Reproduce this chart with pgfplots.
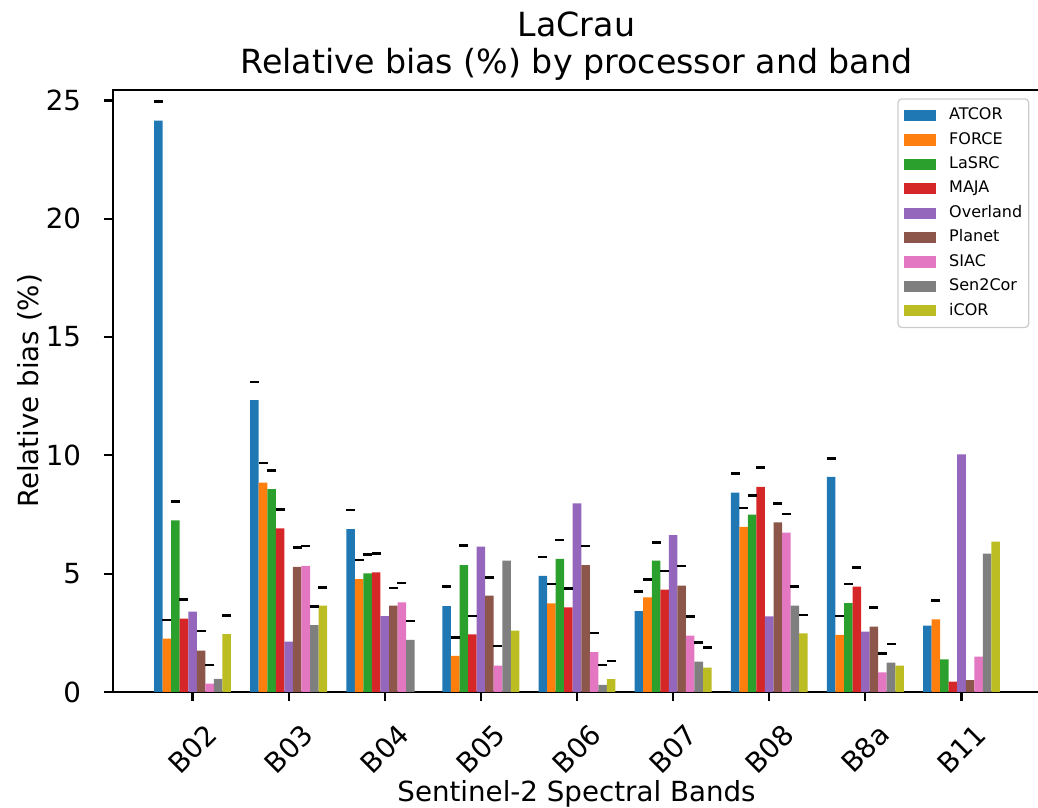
\documentclass[border=0pt]{standalone}
\usepackage{fontspec}
\setmainfont{DejaVu Sans}
\usepackage{pgfplots}
\usepackage{pgfplotstable}
\pgfplotsset{compat=1.18}
\definecolor{cA}{HTML}{1F77B4}
\definecolor{cB}{HTML}{FF7F0E}
\definecolor{cC}{HTML}{2CA02C}
\definecolor{cD}{HTML}{D62728}
\definecolor{cE}{HTML}{9467BD}
\definecolor{cF}{HTML}{8C564B}
\definecolor{cG}{HTML}{E377C2}
\definecolor{cH}{HTML}{7F7F7F}
\definecolor{cI}{HTML}{BCBD22}

\pgfplotstableread{
x ATCOR FORCE LaSRC MAJA Overland Planet SIAC Sen2Cor iCOR
0 24.15 2.25 7.25 3.10 3.40 1.75 0.35 0.55 2.45
1 12.33 8.85 8.57 6.91 2.13 5.29 5.33 2.83 3.65
2 6.88 4.77 5.01 5.05 3.21 3.65 3.79 2.20 nan
3 3.63 1.53 5.36 2.43 6.14 4.07 1.11 5.55 2.59
4 4.91 3.74 5.62 3.58 7.97 5.36 1.68 0.30 0.54
5 3.42 4.00 5.55 4.33 6.63 4.49 2.38 1.28 1.03
6 8.43 6.98 7.50 8.67 3.20 7.17 6.73 3.65 2.48
7 9.09 2.41 3.75 4.45 2.55 2.76 0.83 1.24 1.11
8 2.80 3.07 1.38 0.44 10.04 0.50 1.49 5.85 6.35
}\vals

\pgfplotstableread{
x ATCOR FORCE LaSRC MAJA Planet SIAC Sen2Cor iCOR
0 24.96 3.05 8.05 3.90 2.57 1.14 nan 3.23
1 13.10 9.68 9.37 7.71 6.11 6.17 3.60 4.42
2 7.69 5.57 5.81 5.86 4.40 4.60 3.00 nan
3 4.45 2.31 6.18 3.21 4.84 1.94 nan nan
4 5.71 4.56 6.42 4.38 6.17 2.50 1.14 1.31
5 4.24 4.76 6.33 5.11 5.33 3.18 2.08 1.87
6 9.23 7.78 8.30 9.49 7.97 7.52 4.45 3.25
7 9.87 3.21 4.56 5.26 3.56 1.63 2.03 nan
8 nan 3.86 nan nan nan nan nan nan
}\dashes

\pgfplotsset{
  mybar/.style={ybar, bar width=0.08889, bar shift=0pt, fill=#1, draw=none,
    legend image code/.code={\fill[fill=#1, draw=none, fill opacity=1, sharp corners] (0pt,-2.25pt) rectangle (12.8pt,2.25pt); \path (17.9pt,0pt);}},
  mydash/.style={only marks, mark=-, mark size=1.8pt, mark options={line width=1.05pt, black}, forget plot},
}

\begin{document}
\begin{tikzpicture}
\useasboundingbox (0,0) rectangle (415.2pt,323.2pt);
\begin{axis}[
  at={(45.1pt,46.4pt)}, anchor=south west,
  scale only axis, width=371.4pt, height=240.8pt,
  xmin=-0.83, xmax=8.83, ymin=0, ymax=25.44,
  xtick={0,1,2,3,4,5,6,7,8},
  xticklabels={B02,B03,B04,B05,B06,B07,B08,B8a,B11},
  ytick={0,5,10,15,20,25},
  xtick pos=bottom, ytick pos=left,
  tick align=outside, major tick length=3.7pt,
  every tick/.style={black, line width=0.9pt},
  axis line style={line width=0.9pt},
  tick label style={font=\fontsize{11.08}{13}\selectfont},
  yticklabel style={anchor=east, inner sep=0pt, xshift=-8.8pt},
  xticklabel style={yshift=-19pt, rotate=45, anchor=center, inner sep=0pt},
  /pgf/number format/assume math mode=true,
  legend cell align=left,
  legend style={at={(0.8451,0.9862)}, anchor=north west, draw=black!20, line width=0.5pt,
    rounded corners=1.5pt, fill=white, fill opacity=0.8, text opacity=1,
    inner xsep=2.56pt, inner ysep=1.8pt, row sep=0pt,
    font=\fontsize{6.4}{7.5}\selectfont,
    nodes={inner sep=0pt, minimum height=9.76pt}},
]
\addplot[mybar=cA] table[x expr=\thisrow{x}-0.35556, y=ATCOR]{\vals};
\addplot[mybar=cB] table[x expr=\thisrow{x}-0.26667, y=FORCE]{\vals};
\addplot[mybar=cC] table[x expr=\thisrow{x}-0.17778, y=LaSRC]{\vals};
\addplot[mybar=cD] table[x expr=\thisrow{x}-0.08889, y=MAJA]{\vals};
\addplot[mybar=cE] table[x expr=\thisrow{x}, y=Overland]{\vals};
\addplot[mybar=cF] table[x expr=\thisrow{x}+0.08889, y=Planet]{\vals};
\addplot[mybar=cG] table[x expr=\thisrow{x}+0.17778, y=SIAC]{\vals};
\addplot[mybar=cH] table[x expr=\thisrow{x}+0.26667, y=Sen2Cor]{\vals};
\addplot[mybar=cI] table[x expr=\thisrow{x}+0.35556, y=iCOR]{\vals};
\legend{ATCOR,FORCE,LaSRC,MAJA,Overland,Planet,SIAC,Sen2Cor,iCOR}
\addplot[mydash] table[x expr=\thisrow{x}-0.35556, y=ATCOR]{\dashes};
\addplot[mydash] table[x expr=\thisrow{x}-0.26667, y=FORCE]{\dashes};
\addplot[mydash] table[x expr=\thisrow{x}-0.17778, y=LaSRC]{\dashes};
\addplot[mydash] table[x expr=\thisrow{x}-0.08889, y=MAJA]{\dashes};
\addplot[mydash] table[x expr=\thisrow{x}+0.08889, y=Planet]{\dashes};
\addplot[mydash] table[x expr=\thisrow{x}+0.17778, y=SIAC]{\dashes};
\addplot[mydash] table[x expr=\thisrow{x}+0.26667, y=Sen2Cor]{\dashes};
\addplot[mydash] table[x expr=\thisrow{x}+0.35556, y=iCOR]{\dashes};
\end{axis}
\node[anchor=base, font=\fontsize{13.3}{16}\selectfont] at (230.6pt,308.5pt) {LaCrau};
\node[anchor=base, font=\fontsize{13.3}{16}\selectfont] at (230.6pt,293.6pt) {Relative bias (\%) by processor and band};
\node[anchor=center, rotate=90, font=\fontsize{11.08}{13}\selectfont] at (12pt,166.8pt) {Relative bias (\%)};
\node[anchor=base, font=\fontsize{11.08}{13}\selectfont] at (230.6pt,2.5pt) {Sentinel-2 Spectral Bands};
\end{tikzpicture}
\end{document}
